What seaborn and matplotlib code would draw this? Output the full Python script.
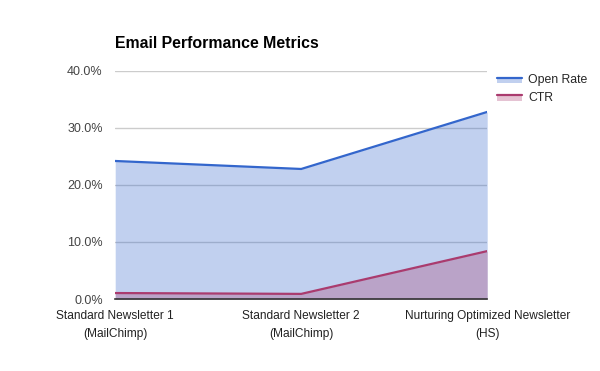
import matplotlib
matplotlib.use("Agg")
import matplotlib.pyplot as plt
import seaborn as sns
import pandas as pd
from matplotlib.patches import Rectangle
from matplotlib.lines import Line2D
from matplotlib.legend_handler import HandlerBase

categories = ["Standard Newsletter 1\n(MailChimp)", "Standard Newsletter 2\n(MailChimp)",
              "Nurturing Optimized Newsletter\n(HS)"]
open_rate = [24.2, 22.8, 32.8]
ctr = [1.05, 0.9, 8.4]
yticks = [0, 10, 20, 30, 40]
ytick_labels = ["0.0%", "10.0%", "20.0%", "30.0%", "40.0%"]
series_names = ["Open Rate", "CTR"]

sns.set_theme(style="white")
plt.rcParams['font.family'] = ['Liberation Sans', 'DejaVu Sans']

blue = "#3366cc"
pink = "#aa3b6e"

df = pd.DataFrame({"x": list(range(len(categories))) * 2,
                   "value": open_rate + ctr,
                   "series": [series_names[0]] * 3 + [series_names[1]] * 3})

fig = plt.figure(figsize=(6, 3.71), dpi=100)
ax = fig.add_axes([0.192, 0.194, 0.62, 0.615])

xs = list(range(len(categories)))
ax.fill_between(xs, 0, open_rate, color=blue, alpha=0.3, lw=0, zorder=2)
ax.fill_between(xs, 0, ctr, color=pink, alpha=0.3, lw=0, zorder=3)
sns.lineplot(data=df, x="x", y="value", hue="series", palette={series_names[0]: blue, series_names[1]: pink},
             linewidth=1.6, ax=ax, legend=False, zorder=4)

ax.set_xlim(0, 2)
ax.set_ylim(0, 40)
ax.set_yticks(yticks)
ax.set_yticklabels(ytick_labels)
ax.set_xticks(xs)
ax.set_xticklabels(categories, linespacing=1.62)
ax.tick_params(axis='x', labelsize=8.6, colors="#222222", length=0, pad=8)
ax.tick_params(axis='y', labelsize=9, colors="#444444", length=0, pad=9)
ax.set_xlabel("")
ax.set_ylabel("")
ax.grid(axis='y', color="#cccccc", lw=1, zorder=1)
for s in ["top", "right", "left"]:
    ax.spines[s].set_visible(False)
ax.spines["bottom"].set_color("#333333")
ax.spines["bottom"].set_linewidth(1.2)
ax.spines["bottom"].set_zorder(5)

fig.text(0.192, 0.884, "Email Performance Metrics", fontsize=11.4, fontweight='bold',
         color="black", ha="left", va="center")


class AreaHandler(HandlerBase):
    def create_artists(self, legend, orig_handle, xdescent, ydescent, width, height, fontsize, trans):
        c = orig_handle.get_color()
        top = height * 0.6
        rect = Rectangle((-xdescent, -ydescent + top - height * 0.6), width, height * 0.6,
                         facecolor=c, alpha=0.3, lw=0, transform=trans)
        line = Line2D([-xdescent, -xdescent + width], [-ydescent + top, -ydescent + top],
                      color=c, lw=1.6, transform=trans)
        return [rect, line]


handles = [Line2D([0], [0], color=blue), Line2D([0], [0], color=pink)]
leg = fig.legend(handles=handles, labels=series_names, loc="upper left",
                 bbox_to_anchor=(0.81, 0.83), frameon=False, fontsize=8.8,
                 handler_map={Line2D: AreaHandler()},
                 handlelength=2.05, handletextpad=0.5, labelspacing=0.45)

fig.savefig("out.png", dpi=100)
